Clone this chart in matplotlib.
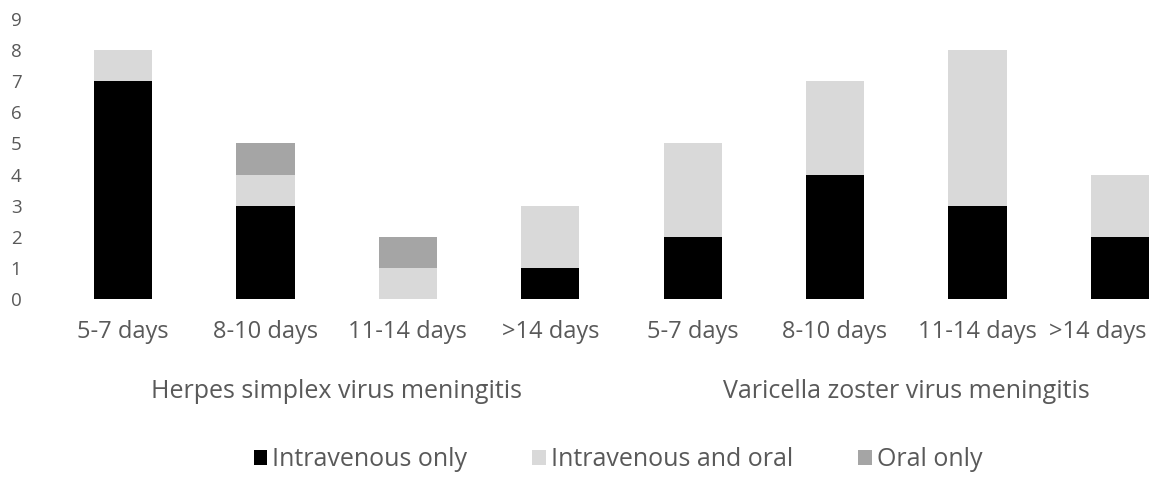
import matplotlib
matplotlib.use("Agg")
import matplotlib.pyplot as plt
from matplotlib.transforms import ScaledTranslation
import numpy as np

plt.rcParams['font.family'] = ['Open Sans', 'DejaVu Sans']

categories = ["5-7 days", "8-10 days", "11-14 days", ">14 days",
              "5-7 days", "8-10 days", "11-14 days", ">14 days"]
groups = ["Herpes simplex virus meningitis", "Varicella zoster virus meningitis"]
iv_only = [7, 3, 0, 1, 2, 4, 3, 2]
iv_oral = [1, 1, 1, 2, 3, 3, 5, 2]
oral_only = [0, 1, 1, 0, 0, 0, 0, 0]

text_color = "#595959"
W, H = 1149, 499

fig = plt.figure(figsize=(W / 100, H / 100), dpi=100)
ax = fig.add_axes([52 / W, 200 / H, 1139 / W, 280 / H])

x = np.arange(len(categories))
bw = 0.41
iv_only = np.array(iv_only)
iv_oral = np.array(iv_oral)
oral_only = np.array(oral_only)
ax.bar(x, iv_only, bw, color="#000000", label="Intravenous only")
ax.bar(x, iv_oral, bw, bottom=iv_only, color="#D9D9D9", label="Intravenous and oral")
ax.bar(x, oral_only, bw, bottom=iv_only + iv_oral, color="#A5A5A5", label="Oral only")

ax.set_xlim(-0.5, len(categories) - 0.5)
ax.set_ylim(0, 9)
ax.set_yticks(range(0, 10))
ax.tick_params(axis="y", length=0, labelsize=13.5, labelcolor=text_color, pad=22)
ax.set_xticks(x)
ax.set_xticklabels(categories)
ax.tick_params(axis="x", length=0, labelsize=17, labelcolor=text_color, pad=15)
for s in ax.spines.values():
    s.set_visible(False)

# last label is pushed back inside the picture, as in the original
last = ax.get_xticklabels()[-1]
last.set_horizontalalignment("right")
last.set_transform(last.get_transform() + ScaledTranslation(0.27, 0, fig.dpi_scale_trans))

for i, g in enumerate(groups):
    ax.text(i * 4 + 1.5, -0.33, g, transform=ax.get_xaxis_transform(),
            ha="center", va="center", fontsize=18, color=text_color)

fig.legend(loc="center", bbox_to_anchor=(618 / W, 1 - 460 / H), ncol=3,
           frameon=False, fontsize=18, labelcolor=text_color,
           handlelength=0.55, handleheight=0.55, handletextpad=0.2,
           columnspacing=2.6)

fig.savefig("out.png", dpi=100)
